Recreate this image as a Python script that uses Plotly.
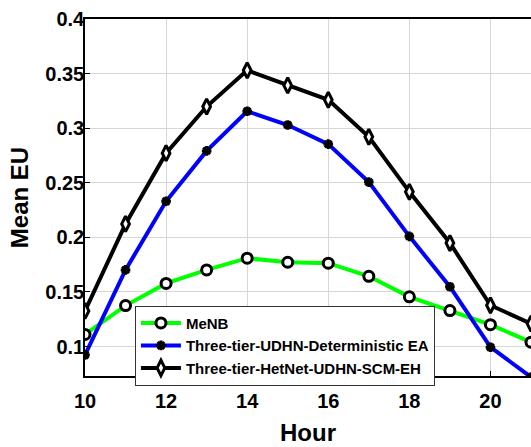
import plotly.graph_objects as go

hours = [10, 11, 12, 13, 14, 15, 16, 17, 18, 19, 20, 21]
menb = [0.1111, 0.1375, 0.1578, 0.1702, 0.1809, 0.1772, 0.1763, 0.1643, 0.1455, 0.1329, 0.1200, 0.1040]
det_ea = [0.0923, 0.1702, 0.2330, 0.2792, 0.3155, 0.3029, 0.2854, 0.2506, 0.2009, 0.1548, 0.0994, 0.0720]
scm_eh = [0.1326, 0.2123, 0.2771, 0.3198, 0.3530, 0.3392, 0.3260, 0.2921, 0.2417, 0.1948, 0.1378, 0.1210]

names = ["MeNB", "Three-tier-UDHN-Deterministic EA", "Three-tier-HetNet-UDHN-SCM-EH"]
x_ticks = [10, 12, 14, 16, 18, 20]
y_ticks = [0.1, 0.15, 0.2, 0.25, 0.3, 0.35, 0.4]
y_tick_text = ["0.1", "0.15", "0.2", "0.25", "0.3", "0.35", "0.4"]

FONT = "Liberation Sans, Arial, sans-serif"

fig = go.Figure()
fig.add_trace(go.Scatter(
    x=hours, y=menb, name=names[0], mode="lines+markers",
    line=dict(color="#00ff00", width=4),
    marker=dict(symbol="circle", size=10, color="white", line=dict(color="black", width=3)),
))
fig.add_trace(go.Scatter(
    x=hours, y=det_ea, name=names[1], mode="lines+markers",
    line=dict(color="#0000ff", width=4),
    marker=dict(symbol="asterisk-open", size=8, color="black", line=dict(color="black", width=3)),
))
fig.add_trace(go.Scatter(
    x=hours, y=scm_eh, name=names[2], mode="lines+markers",
    line=dict(color="black", width=4),
    marker=dict(symbol="diamond-tall", size=11, color="white", line=dict(color="black", width=3)),
))

fig.update_layout(
    width=531, height=447,
    margin=dict(l=85, r=0, t=19, b=71),
    paper_bgcolor="white", plot_bgcolor="white",
    font=dict(family=FONT, color="black"),
    showlegend=True,
    legend=dict(
        x=0.112, y=0.197, xanchor="left", yanchor="top",
        bgcolor="white", bordercolor="#333333", borderwidth=1,
        font=dict(family=FONT, size=15, color="black", weight="bold"),
        tracegroupgap=0, itemwidth=40,
    ),
)
fig.update_xaxes(
    range=[10, 21], tickvals=x_ticks,
    showgrid=True, gridcolor="#d6d6d6", gridwidth=1,
    showline=True, linecolor="black", linewidth=1.5, mirror=True,
    ticks="inside", ticklen=5, tickcolor="black", tickwidth=1,
    ticklabelstandoff=6,
    tickfont=dict(family=FONT, size=20, color="black", weight="bold"),
    title=dict(text="Hour", font=dict(family=FONT, size=24, color="black", weight="bold"), standoff=13),
    zeroline=False,
)
fig.update_yaxes(
    range=[0.073, 0.4], tickvals=y_ticks, ticktext=y_tick_text,
    showgrid=True, gridcolor="#d6d6d6", gridwidth=1,
    showline=True, linecolor="black", linewidth=1.5, mirror=False,
    ticks="inside", ticklen=5, tickcolor="black", tickwidth=1,
    ticklabelstandoff=-5,
    tickfont=dict(family=FONT, size=20, color="black", weight="bold"),
    title=dict(text="Mean EU", font=dict(family=FONT, size=24, color="black", weight="bold"), standoff=10),
    zeroline=False,
)

fig.write_html("out.html")
